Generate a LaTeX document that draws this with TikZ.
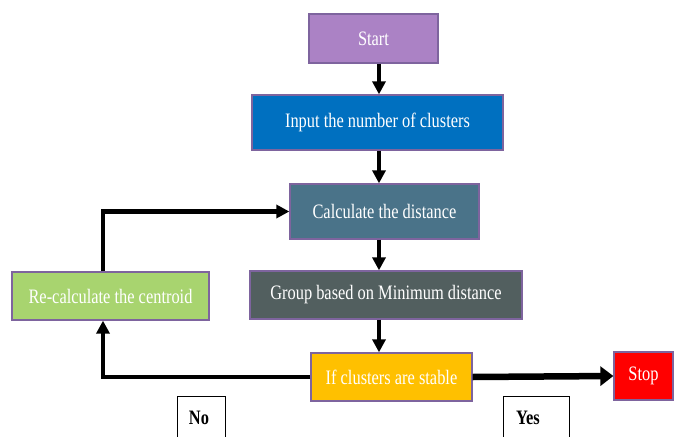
\documentclass[tikz,border=0pt]{standalone}
\usepackage{fontspec}
\setmainfont{Liberation Serif}[FakeStretch=0.8]
\usetikzlibrary{arrows.meta,positioning}
\definecolor{cstart}{HTML}{AB82C5}
\definecolor{cinput}{HTML}{0070C0}
\definecolor{ccalc}{HTML}{4A7389}
\definecolor{cgroup}{HTML}{525F5F}
\definecolor{crecalc}{HTML}{A8D46F}
\definecolor{cif}{HTML}{FFC000}
\definecolor{cstop}{HTML}{FF0000}
\definecolor{cborder}{HTML}{7E649E}
\tikzset{
  box/.style={draw=cborder, line width=1.3pt, text=white, inner sep=0pt,
    font=\fontsize{20.5}{24}\selectfont},
  arr/.style={line width=4.5pt, -{Triangle[length=13pt,width=13pt]}},
  bigarr/.style={line width=6.5pt, -{Triangle[length=13pt,width=19pt]}},
  lab/.style={font=\fontsize{20.5}{24}\selectfont\bfseries, inner sep=0pt},
  labbox/.style={draw=black, line width=1pt}
}
\begin{document}
\begin{tikzpicture}[x=1pt,y=-1pt]
\useasboundingbox (0,0) rectangle (679,436);
\clip (0,0) rectangle (679,436);
\node[box, fill=cstart, minimum width=129pt, minimum height=49pt] (start) at (373.5,38.5) {Start};
\node[box, fill=cinput, minimum width=251pt, minimum height=55pt] (input) at (377.5,122.5) {Input the number of clusters};
\node[box, fill=ccalc, minimum width=189pt, minimum height=55pt] (calc) at (384.5,211.5) {Calculate the distance};
\node[box, fill=cgroup, minimum width=272pt, minimum height=48pt] (group) at (386,295) {Group based on Minimum distance};
\node[box, fill=crecalc, minimum width=197pt, minimum height=48pt] (recalc) at (110.5,296) {Re-calculate the centroid};
\node[box, fill=cif, minimum width=161pt, minimum height=48pt] (if) at (391.5,377) {If clusters are stable};
\node[box, fill=cstop, minimum width=59pt, minimum height=48pt] (stop) at (643.5,376) {Stop};
\coordinate (ax) at (379,0);
\draw[arr] (ax |- start.south) -- (ax |- input.north);
\draw[arr] (ax |- input.south) -- (ax |- calc.north);
\draw[arr] (ax |- calc.south) -- (ax |- group.north);
\draw[arr] (ax |- group.south) -- (ax |- if.north);
\draw[arr] ([xshift=-7.5pt]recalc.north) |- (calc.west);
\draw[arr] (if.west) -| ([xshift=-7.5pt]recalc.south);
\draw[bigarr] (if.east) -- (stop.west);
\draw[labbox] (177,446) -- (177,396) -- (225,396) -- (225,446);
\draw[labbox] (503,446) -- (503,396) -- (569,396) -- (569,446);
\node[lab] (no) at (199,418) {No};
\node[lab] (yes) at (528,418) {Yes};
\end{tikzpicture}
\end{document}
